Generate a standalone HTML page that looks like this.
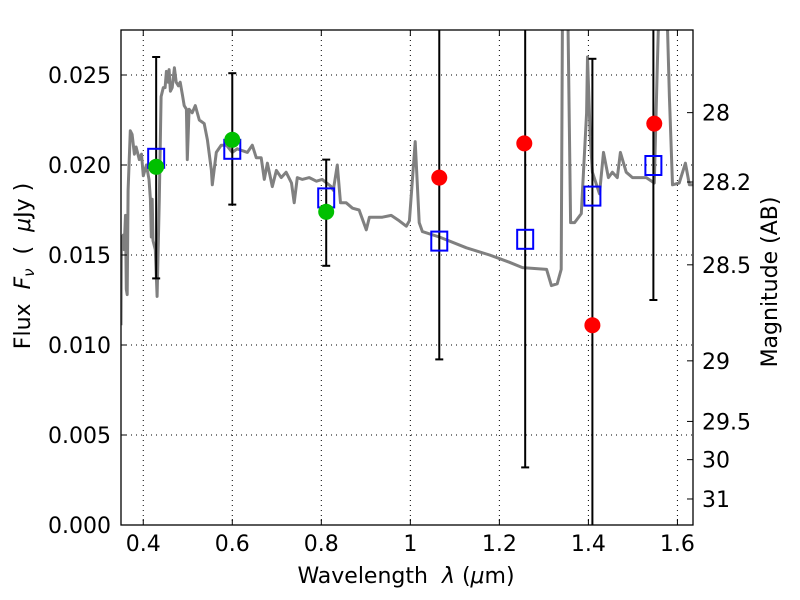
<!DOCTYPE html>
<html><head><meta charset="utf-8"><style>
body{margin:0;background:#fff;}
svg{display:block;font-family:"DejaVu Sans","Liberation Sans",sans-serif;}
</style></head><body>
<svg id="chart" width="800" height="600">
<defs><clipPath id="clip"><rect x="121" y="30" width="572" height="495"/></clipPath></defs>
<g id="grid"></g>
<g id="marks" clip-path="url(#clip)"></g>
<rect x="121" y="30" width="572" height="495" fill="none" stroke="#000" stroke-width="1.3"/>
<g id="axes"></g>
<text x="406" y="583" font-size="22" text-anchor="middle">Wavelength&#160;&#160;<tspan font-style="italic">λ</tspan> (<tspan font-style="italic">μ</tspan>m)</text>
<text transform="translate(30,266) rotate(-90)" font-size="22" text-anchor="middle">Flux&#160;&#160;<tspan font-style="italic">F</tspan><tspan font-style="italic" font-size="15" dy="4">ν</tspan><tspan dy="-4">&#160;&#160;(&#160;&#160;</tspan><tspan font-style="italic">μ</tspan>Jy )</text>
<text transform="translate(777,282) rotate(-90)" font-size="22" text-anchor="middle">Magnitude (AB)</text>
</svg>
<script>
const specLam=[0.350,0.351,0.355,0.357,0.360,0.362,0.364,0.366,0.371,0.375,0.380,0.384,0.391,0.396,0.400,0.407,0.413,0.416,0.418,0.420,0.422,0.427,0.431,0.436,0.440,0.445,0.449,0.452,0.456,0.458,0.461,0.465,0.470,0.474,0.479,0.483,0.488,0.492,0.497,0.499,0.503,0.510,0.517,0.526,0.537,0.544,0.553,0.555,0.564,0.575,0.587,0.600,0.611,0.622,0.634,0.645,0.654,0.665,0.672,0.679,0.690,0.699,0.710,0.721,0.733,0.739,0.746,0.757,0.773,0.789,0.802,0.822,0.827,0.836,0.843,0.856,0.870,0.885,0.901,0.908,0.924,0.937,0.957,0.975,0.991,0.998,1.011,1.020,1.027,1.065,1.126,1.178,1.222,1.252,1.306,1.317,1.330,1.339,1.342,1.353,1.360,1.369,1.384,1.396,1.398,1.404,1.409,1.425,1.434,1.445,1.454,1.465,1.472,1.485,1.499,1.530,1.548,1.555,1.560,1.575,1.582,1.589,1.604,1.618,1.627,1.638];
const specFlux=[0.0111,0.0158,0.0161,0.0153,0.0172,0.0131,0.0128,0.0186,0.0219,0.0217,0.0206,0.0210,0.0203,0.0206,0.0194,0.0200,0.0192,0.0181,0.0160,0.0181,0.0158,0.0153,0.0127,0.0181,0.0238,0.0243,0.0243,0.0252,0.0246,0.0253,0.0241,0.0243,0.0254,0.0246,0.0244,0.0246,0.0239,0.0233,0.0231,0.0203,0.0231,0.0229,0.0233,0.0225,0.0223,0.0214,0.0197,0.0189,0.0207,0.0211,0.0211,0.0207,0.0209,0.0208,0.0207,0.0211,0.0204,0.0204,0.0192,0.0201,0.0188,0.0197,0.0193,0.0196,0.0190,0.0179,0.0193,0.0192,0.0193,0.0191,0.0192,0.0188,0.0186,0.0200,0.0179,0.0179,0.0176,0.0175,0.0164,0.0171,0.0171,0.0171,0.0172,0.0169,0.0166,0.0169,0.0213,0.0168,0.0163,0.0160,0.0154,0.0150,0.0146,0.0143,0.0142,0.0133,0.0134,0.0142,0.0300,0.0300,0.0168,0.0168,0.0173,0.0229,0.0260,0.0216,0.0196,0.0184,0.0207,0.0193,0.0196,0.0193,0.0207,0.0196,0.0193,0.0193,0.0190,0.0257,0.0300,0.0300,0.0238,0.0189,0.0190,0.0201,0.0189,0.0189];
const greenLam=[0.429,0.600,0.811];
const greenFlux=[0.0199,0.0214,0.0174];
const squareLam=[0.429,0.600,0.811,1.065,1.258,1.409,1.546];
const squareFlux=[0.0204,0.0209,0.0182,0.0158,0.0159,0.0183,0.0200];
const redLam=[1.065,1.256,1.409,1.548];
const redFlux=[0.0193,0.0212,0.0111,0.0223];
const errLam=[0.429,0.600,0.811,1.065,1.258,1.409,1.546];
const errLow=[0.0137,0.0178,0.0144,0.0092,0.0032,-0.005,0.0125];
const errHigh=[0.0260,0.0251,0.0203,0.035,0.035,0.0259,0.035];
const xTicks=[0.4,0.6,0.8,1.0,1.2,1.4,1.6];
const xTickLabels=["0.4","0.6","0.8","1","1.2","1.4","1.6"];
const yTicks=[0,0.005,0.010,0.015,0.020,0.025];
const yTickLabels=["0.000","0.005","0.010","0.015","0.020","0.025"];
const magTicks=[28,28.2,28.5,29,29.5,30,31];
const magTickLabels=["28","28.2","28.5","29","29.5","30","31"];

const X0=121,X1=693,Y0=525,Y1=30,LMIN=0.35,LMAX=1.635,FMIN=0,FMAX=0.0275;
const sx=l=>X0+(l-LMIN)/(LMAX-LMIN)*(X1-X0);
const sy=f=>Y0-(f-FMIN)/(FMAX-FMIN)*(Y0-Y1);
const NS="http://www.w3.org/2000/svg";
function mk(parent,tag,attrs){const e=document.createElementNS(NS,tag);for(const k in attrs)e.setAttribute(k,attrs[k]);parent.appendChild(e);return e;}
const grid=document.getElementById('grid'),marks=document.getElementById('marks'),axes=document.getElementById('axes');

xTicks.forEach((t,i)=>{const x=sx(t);
 const g=mk(grid,'line',{x1:x,x2:x,y1:Y1,y2:Y0,stroke:'#000','stroke-dasharray':'1,4','stroke-width':1});
 
 
 mk(axes,'line',{x1:x,x2:x,y1:Y0,y2:Y0-6,stroke:'#000'});
 mk(axes,'line',{x1:x,x2:x,y1:Y1,y2:Y1+6,stroke:'#000'});
 const tx=mk(axes,'text',{x:x,y:Y0+26,'font-size':22,'text-anchor':'middle'});tx.textContent=xTickLabels[i];
 
 
});
yTicks.forEach((t,i)=>{const y=sy(t);
 const g=mk(grid,'line',{x1:X0,x2:X1,y1:y,y2:y,stroke:'#000','stroke-dasharray':'1,4','stroke-width':1});
 
 
 mk(axes,'line',{x1:X0,x2:X0+6,y1:y,y2:y,stroke:'#000'});
 const tx=mk(axes,'text',{x:X0-10,y:y+8,'font-size':22,'text-anchor':'end'});tx.textContent=yTickLabels[i];
 
 
});
magTicks.forEach((m,i)=>{const y=sy(Math.pow(10,-0.4*(m-23.9)));
 mk(axes,'line',{x1:X1-6,x2:X1,y1:y,y2:y,stroke:'#000'});
 const tx=mk(axes,'text',{x:X1+9,y:y+8,'font-size':22});tx.textContent=magTickLabels[i];
 
 
});

const pts=specLam.map((l,i)=>sx(l).toFixed(1)+','+sy(specFlux[i]).toFixed(1)).join(' ');
const sp=mk(marks,'polyline',{points:pts,fill:'none',stroke:'#808080','stroke-width':3,'stroke-linejoin':'round'});



errLam.forEach((l,i)=>{const x=sx(l),ya=sy(errLow[i]),yb=sy(errHigh[i]);
 const e=mk(marks,'line',{x1:x,x2:x,y1:ya,y2:yb,stroke:'#000','stroke-width':2});
 
 
 mk(marks,'line',{x1:x-4,x2:x+4,y1:ya,y2:ya,stroke:'#000','stroke-width':2});
 mk(marks,'line',{x1:x-4,x2:x+4,y1:yb,y2:yb,stroke:'#000','stroke-width':2});
});
squareLam.forEach((l,i)=>{
 const r=mk(marks,'rect',{x:sx(l)-8,y:sy(squareFlux[i])-9,width:16,height:19,fill:'none',stroke:'#0000ff','stroke-width':2});
 
 
});
greenLam.forEach((l,i)=>{
 const c=mk(marks,'circle',{cx:sx(l),cy:sy(greenFlux[i]),r:8,fill:'#00c000'});
 
 
});
redLam.forEach((l,i)=>{
 const c=mk(marks,'circle',{cx:sx(l),cy:sy(redFlux[i]),r:8,fill:'#ff0000'});
 
 
});
</script>
</body></html>
